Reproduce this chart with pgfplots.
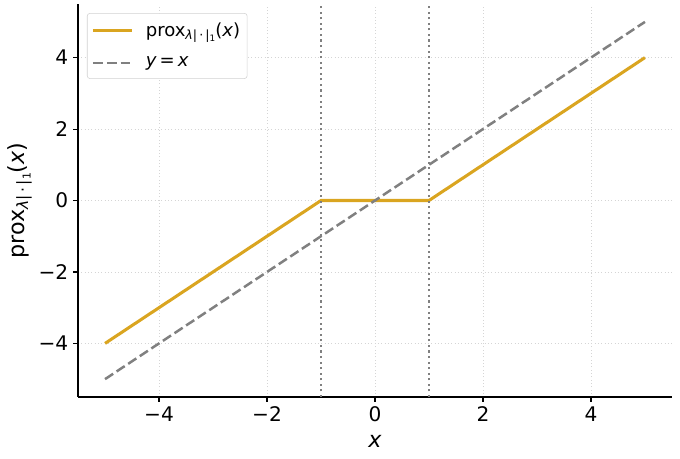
\documentclass[border=0pt]{standalone}
\usepackage{pgfplots}
\pgfplotsset{compat=1.18}
\usepackage{fontspec}
\setmainfont{DejaVu Sans}
\usetikzlibrary{calc}
\definecolor{gold}{HTML}{DAA520}
\definecolor{gridc}{HTML}{D5D5D5}
\newcommand{\sub}[1]{\raisebox{-0.3ex}{\scalebox{0.7}{#1}}}
\newcommand{\prox}{prox\sub{\textit{λ}|\,·\,|\sub{1}}(\textit{x})}
\begin{document}
\begin{tikzpicture}
\begin{axis}[
  scale only axis, width=427.7pt, height=283pt,
  xmin=-5.5, xmax=5.5, ymin=-5.5, ymax=5.5,
  axis lines=left, axis line style={-, line width=0.9pt, black},
  xtick={-4,-2,0,2,4}, ytick={-4,-2,0,2,4},
  xticklabels={−4,−2,0,2,4}, yticklabels={−4,−2,0,2,4},
  tick align=outside, major tick length=3.5pt,
  tick style={black, line width=0.8pt},
  ticklabel style={font=\fontsize{14.5}{16}\selectfont},
  grid=major, grid style={dotted, gridc, line width=0.6pt},
  xlabel={\textit{x}}, ylabel={\prox},
  label style={font=\fontsize{16}{19}\selectfont},
  xlabel style={yshift=-3pt},
  ylabel style={yshift=-2pt},
  legend style={at={(rel axis cs:0.015,0.977)}, anchor=north west,
    draw=gray!35, rounded corners=2pt, font=\fontsize{13}{15}\selectfont,
    inner xsep=3pt, inner ysep=5pt, row sep=9pt,
    /tikz/every odd column/.append style={column sep=7pt}},
  legend cell align=left,
  legend image code/.code={\draw[#1] (0pt,0pt) -- (28pt,0pt);},
]
\coordinate (ll) at (rel axis cs:0,0);
\coordinate (ur) at (rel axis cs:1,1);
\addplot[gold, line width=2.2pt] coordinates {(-5,-4) (-1,0) (1,0) (5,4)};
\addlegendentry{\prox}
\addplot[gray, line width=1.8pt, dash pattern=on 7pt off 3pt] coordinates {(-5,-5) (5,5)};
\addlegendentry{\textit{y}\,=\,\textit{x}}
\addplot[gray, line width=1.5pt, dash pattern=on 1.5pt off 2.5pt, forget plot] coordinates {(-1,-5.5) (-1,5.5)};
\addplot[gray, line width=1.5pt, dash pattern=on 1.5pt off 2.5pt, forget plot] coordinates {(1,-5.5) (1,5.5)};
\end{axis}
\pgfresetboundingbox
\path[use as bounding box] ($(ll)+(-56.2pt,-44.3pt)$) rectangle ($(ur)+(5.8pt,2.9pt)$);
\end{tikzpicture}
\end{document}
